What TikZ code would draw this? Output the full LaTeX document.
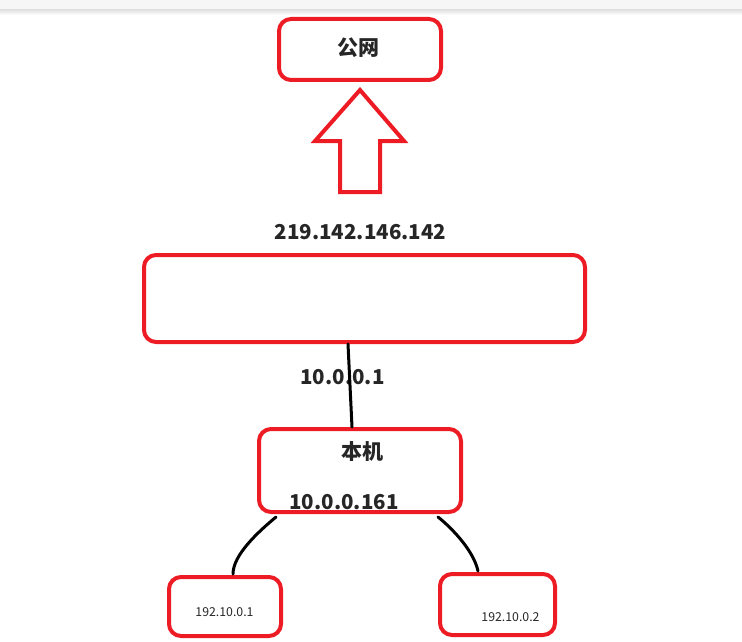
\documentclass[tikz,border=0pt]{standalone}
\usepackage{fontspec}
\setmainfont{Noto Sans}
\newfontfamily\cjk{Noto Sans CJK SC}
\usetikzlibrary{calc}
\definecolor{pred}{HTML}{ED1C24}
\definecolor{txt}{HTML}{262626}
\begin{document}
\begin{tikzpicture}[x=1pt,y=-1pt,
  box/.style={draw=pred, line width=4pt, rounded corners=12pt, inner sep=0pt},
  lbl/.style={text=txt, inner sep=0pt, font=\cjk\bfseries\fontsize{20.5}{24}\selectfont},
  cjklbl/.style={text=txt, inner sep=0pt, font=\cjk\bfseries\fontsize{21}{24}\selectfont},
  small/.style={text=txt, inner sep=0pt, font=\cjk\fontsize{12.3}{14}\selectfont},
  wire/.style={draw=black, line width=3pt, line cap=round},
  blockarrow/.style={draw=pred, line width=4pt, line join=miter}]
\useasboundingbox (0,0) rectangle (742,642);
\fill[gray!7] (0,0) rectangle (742,10);
\shade[top color=gray!22, bottom color=white] (0,10) rectangle (742,15);

% boxes
\node[box, minimum width=162pt, minimum height=61pt] (pub) at (360,49.5) {};
\node[cjklbl] (publbl) at (358,48) {公网};
\node[box, minimum width=441pt, minimum height=87pt] (big) at (364.5,298.5) {};
\node[lbl] (hostip) at (344,502) {10.0.0.161};
\node[box, minimum width=202pt, minimum height=83pt] (host) at (360,470.5) {};
\node[cjklbl] (hostname) at (362,452) {本机};
\node[box, minimum width=112pt, minimum height=59pt] (left) at (225,606.5) {};
\node[box, minimum width=115pt, minimum height=61pt] (right) at (497.5,604.5) {};
\node[small] (leftip) at (224.5,612) {192.10.0.1};
\node[small] (rightip) at (510.5,617.5) {192.10.0.2};

% labels
\node[lbl] (wanip) at (360.5,232) {219.142.146.142};
\node[lbl] (lanip) at (342.5,377) {10.0.0.1};

% block arrow to the public network
\draw[blockarrow] (360,90) -- (404,141) -- (380,141) -- (380,192) -- (340,192) -- (340,141) -- (315,141) -- cycle;

% wires
\draw[wire] ($(big.south)+(-16.5,0)$) -- ($(host.north)+(-8,0)$);
\draw[wire] ($(host.south)+(-84,3)$) .. controls (258,532) and (233,555) .. ($(left.north)+(8,-1)$);
\draw[wire] ($(host.south)+(78,3)$) .. controls (447,524) and (473,548) .. ($(right.north)+(-19.5,-1)$);
\end{tikzpicture}
\end{document}
